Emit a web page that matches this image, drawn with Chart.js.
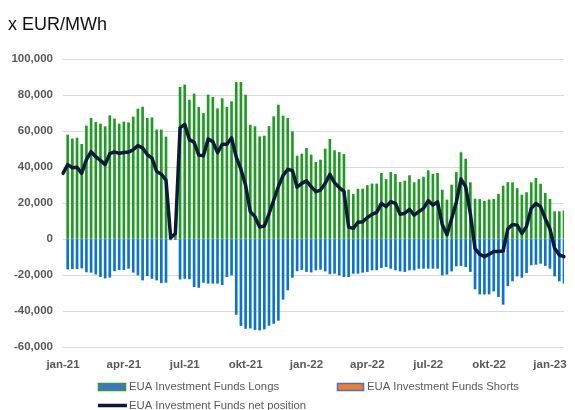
<!DOCTYPE html>
<html>
<head>
<meta charset="utf-8">
<script src="https://cdn.jsdelivr.net/npm/chart.js@4.4.0/dist/chart.umd.min.js"></script>
<style>
  html, body { margin:0; padding:0; background:#fff; }
  #wrap { width:575px; height:410px; position:relative; }
</style>
</head>
<body>
<div id="wrap"><canvas id="chart"></canvas></div>
<script>
// Data (weekly, jan-21 .. jan-23)
const tickWeeks = [0, 13, 26, 39, 52, 65, 78, 91, 104];
const tickLabels = ['jan-21','apr-21','jul-21','okt-21','jan-22','apr-22','jul-22','okt-22','jan-23'];

const longs = [
  null, 57800, 55600, 56100, 52600, 62800, 67000, 64800, 63900, 62400,
  68500, 66700, 63900, 65000, 64600, 67800, 72200, 73300, 67000, 67400,
  60600, 60600, 56700, 1200, 3500, 84300, 85600, 77200, 80600, 73200,
  69800, 80000, 78700, 72400, 78000, 73200, 76300, 87000, 87000, 80000,
  63300, 62400, 56800, 57200, 62500, 68000, 74400, 68300, 67000, 59600,
  46100, 47200, 50400, 46700, 42600, 43900, 50000, 55400, 49100, 48100,
  47000, 27200, 24800, 27700, 27800, 29700, 30600, 30600, 36500, 33100,
  37000, 35900, 31400, 32200, 35200, 31300, 33100, 34400, 38000, 36000,
  36500, 27200, 21700, 30000, 37000, 48000, 44400, 31300, 22200, 22000,
  20900, 21800, 22100, 24900, 29400, 31400, 31300, 28100, 24400, 25800,
  31300, 33700, 30500, 25400, 22100, 15200, 15200, 15600
];

const shorts = [
  null, -16700, -16500, -16500, -16100, -18300, -18500, -19500, -20900, -21700,
  -21200, -17700, -17000, -17000, -16300, -18500, -20000, -22800, -20400, -21900,
  -22800, -24300, -24100, -500, -400, -22300, -21900, -22200, -26500, -26900,
  -24100, -24600, -24600, -24600, -25400, -20900, -20000, -41900, -48100, -49700,
  -49500, -50300, -50600, -50000, -48000, -46900, -45200, -33500, -28300, -21300,
  -17700, -17000, -18100, -18400, -17200, -16900, -17800, -19400, -19100, -20000,
  -20900, -20900, -19100, -19100, -18500, -18100, -17200, -17200, -15900, -15400,
  -16300, -17200, -17800, -18100, -17200, -17200, -16300, -16300, -16300, -16300,
  -16300, -20000, -19600, -17800, -15000, -14800, -15400, -18100, -27800, -30600,
  -30600, -30600, -28900, -32000, -36300, -26000, -23300, -20600, -21300, -18700,
  -14400, -14100, -13500, -14800, -16300, -20600, -23300, -24600
];

const netPosition = [
  36500, 41300, 39600, 39800, 36500, 44100, 48500, 45700, 43700, 41300,
  47400, 48400, 47600, 48100, 48300, 49600, 51900, 50600, 46900, 44900,
  37600, 36000, 32700, 700, 3100, 61700, 63700, 55200, 53700, 46600,
  46200, 55600, 54100, 48000, 52600, 52600, 56200, 45500, 38800, 29800,
  15200, 12400, 6700, 7200, 14000, 21500, 29200, 35300, 38700, 38100,
  28800, 30900, 32300, 29100, 26300, 27200, 30900, 35900, 31200, 28600,
  26500, 6600, 5900, 9300, 9600, 11900, 13700, 14800, 19800, 18000,
  20700, 19800, 13700, 14300, 16500, 13300, 15200, 17000, 21300, 18900,
  20600, 8000, 2400, 11200, 20500, 33300, 29100, 14000, -5300, -8500,
  -9800, -8500, -7000, -7000, -6700, 5600, 8100, 7700, 3100, 7000,
  17000, 19700, 18000, 11300, 5600, -5200, -8900, -9800
];

// week categories
const weeks = [];
const start = new Date(Date.UTC(2021, 0, 5));
for (let i = 0; i < netPosition.length; i++) {
  const d = new Date(start.getTime() + i * 7 * 86400000);
  weeks.push(d.toISOString().slice(0, 10));
}

const GREEN = '#1f9b24';
const BLUE = '#0b74c8';
const NAVY = '#0c1a3a';
const GREY = '#595959';

// Titel linksboven
const titlePlugin = {
  id: 'unitTitle',
  afterDraw(chart) {
    const ctx = chart.ctx;
    ctx.save();
    ctx.fillStyle = '#111';
    ctx.font = '18px "Liberation Sans", Arial, sans-serif';
    ctx.textBaseline = 'alphabetic';
    ctx.fillText('x EUR/MWh', 8, 30);
    ctx.restore();
  }
};

// Legenda zoals in Excel (twee rijen)
const legendPlugin = {
  id: 'excelLegend',
  afterDraw(chart) {
    const ctx = chart.ctx;
    const ds = chart.data.datasets;
    ctx.save();
    ctx.font = '11.3px "Liberation Sans", Arial, sans-serif';
    ctx.fillStyle = GREY;
    ctx.textBaseline = 'middle';

    // Longs
    ctx.fillStyle = '#4472c4';
    ctx.fillRect(98, 383, 28, 8);
    ctx.strokeStyle = '#2ca02c'; ctx.lineWidth = 1.5;
    ctx.strokeRect(98.5, 383.5, 27, 7);
    ctx.fillStyle = GREY;
    ctx.fillText(ds[0].label, 129, 387);

    // Shorts
    ctx.fillStyle = '#ed7d31';
    ctx.fillRect(337, 383, 27, 8);
    ctx.strokeStyle = '#4472c4'; ctx.lineWidth = 1.5;
    ctx.strokeRect(337.5, 383.5, 26, 7);
    ctx.fillStyle = GREY;
    ctx.fillText(ds[1].label, 367, 387);

    // net position
    ctx.strokeStyle = NAVY; ctx.lineWidth = 3.5;
    ctx.beginPath(); ctx.moveTo(98, 405.5); ctx.lineTo(127, 405.5); ctx.stroke();
    ctx.fillStyle = GREY;
    ctx.fillText(ds[2].label, 129, 406);
    ctx.restore();
  }
};

const ctx = document.getElementById('chart').getContext('2d');
new Chart(ctx, {
  type: 'bar',
  data: {
    labels: weeks,
    datasets: [
      {label:'EUA Investment Funds Longs', data: longs, backgroundColor: GREEN, barThickness: 2, grouped: false, order: 2},
      {label:'EUA Investment Funds Shorts', data: shorts, backgroundColor: BLUE, barThickness: 2, grouped: false, order: 2},
      {type:'line', label:'EUA Investment Funds net position', data: netPosition, borderColor: NAVY, borderWidth: 3.5,
       pointRadius: 0, tension: 0, borderJoinStyle: 'round', borderCapStyle: 'round', order: 0}
    ]
  },
  options: {
    responsive: true,
    maintainAspectRatio: false,
    animation: false,
    layout: { padding: { top: 59, right: 1, bottom: 0, left: 0 } },
    plugins: { legend: { display: false }, tooltip: { enabled: false }, title: { display: false } },
    scales: {
      x: {
        type: 'category',
        offset: false,
        grid: { display: false, drawTicks: false },
        border: { display: false },
        afterFit: (s) => { s.height = 63; },
        ticks: {
          autoSkip: false, maxRotation: 0, minRotation: 0, padding: 11,
          color: GREY, font: { family: '"Liberation Sans", Arial, sans-serif', size: 11.5, weight: 'bold' },
          callback: (v, i) => { const k = tickWeeks.indexOf(i); return k >= 0 ? tickLabels[k] : ''; }
        }
      },
      y: {
        min: -60000, max: 100000,
        grid: { color: '#d9d9d9', lineWidth: 1, drawTicks: false },
        border: { display: false },
        afterFit: (s) => { s.width = 63; },
        ticks: {
          stepSize: 20000, padding: 10,
          color: GREY, font: { family: '"Liberation Sans", Arial, sans-serif', size: 11.5, weight: 'bold' }
        }
      }
    }
  },
  plugins: [titlePlugin, legendPlugin]
});
</script>
</body>
</html>
